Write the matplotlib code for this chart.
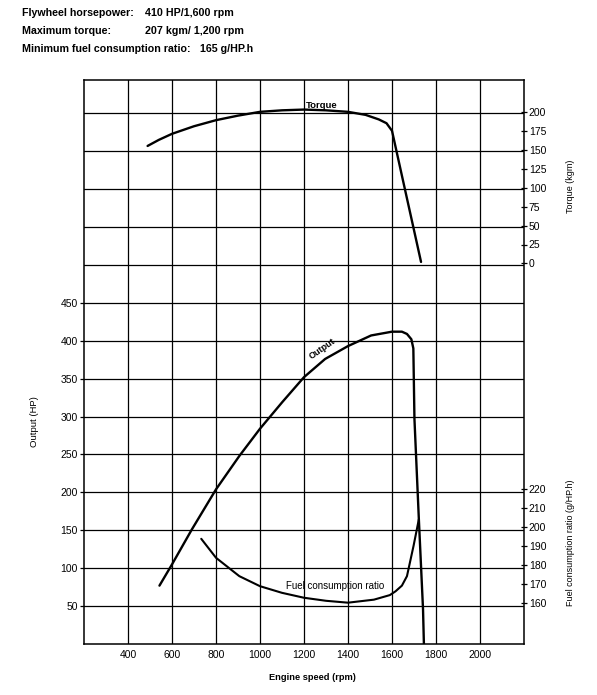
import numpy as np
import matplotlib
matplotlib.use("Agg")
import matplotlib.pyplot as plt

plt.rcParams['font.family'] = ['Liberation Sans', 'DejaVu Sans']

# values
rpm_torque = [489, 540, 600, 700, 800, 900, 1000, 1100, 1200, 1300, 1400, 1480, 1540, 1575, 1600, 1648, 1690, 1732]
torque = [155, 163, 171, 181, 189, 195, 200, 202, 203, 202, 200, 196, 190, 185, 175, 112, 57, 2]

rpm_out = [543, 600, 690, 800, 906, 1000, 1101, 1200, 1296, 1400, 1505, 1600, 1645, 1668, 1688, 1697, 1702, 1722, 1741, 1745]
output = [77, 105, 151, 204, 248, 284, 319, 352, 376, 393, 407, 412, 412, 409, 402, 390, 297, 165, 46, 0]

rpm_fuel = [733, 800, 906, 1000, 1100, 1200, 1300, 1400, 1518, 1590, 1616, 1645, 1668, 1698, 1722]
fuel = [193.7, 183.7, 174, 168.7, 165.2, 162.6, 161, 160, 161.6, 164, 166, 169, 174, 190, 204]

rpm_ticks = [400, 600, 800, 1000, 1200, 1400, 1600, 1800, 2000]
hp_ticks = [50, 100, 150, 200, 250, 300, 350, 400, 450]
torque_ticks = [0, 25, 50, 75, 100, 125, 150, 175, 200]
fuel_ticks = [160, 170, 180, 190, 200, 210, 220]

W, H = 597, 695
fig = plt.figure(figsize=(W / 100, H / 100), dpi=100)
L, R, B, T = 84, 524, 644, 80
ax = fig.add_axes([L / W, (H - B) / H, (R - L) / W, (B - T) / H])

hp_top = 744
ax.set_xlim(200, 2200)
ax.set_ylim(0, hp_top)

ax.set_xticks(rpm_ticks)
ax.set_xticklabels([str(v) for v in rpm_ticks], fontsize=7.5)
ax.tick_params(axis='x', length=0, pad=4)
ax.set_yticks(hp_ticks)
ax.set_yticklabels([str(v) for v in hp_ticks], fontsize=7.5)
ax.set_yticks([500, 550, 600, 650, 700], minor=True)
ax.tick_params(axis='y', which='major', length=3, width=0.9, pad=1.5)
ax.tick_params(axis='y', which='minor', length=0)
ax.grid(True, which='both', color='black', linewidth=0.9)
for s in ax.spines.values():
    s.set_linewidth(1.1)

ax.set_ylabel('Output (HP)', fontsize=6.8)
ax.yaxis.set_label_coords(-0.102, 0.394)
ax.set_xlabel('Engine speed (rpm)', fontsize=6.7, fontweight='bold')
ax.xaxis.set_label_coords(0.52, -0.052)

# torque scale on the right, upper part
ax_t = ax.twinx()
ax_t.set_ylim(-502, -502 + hp_top)
ax_t.set_yticks(torque_ticks)
ax_t.set_yticklabels([str(v) for v in torque_ticks], fontsize=7.5)
ax_t.tick_params(axis='y', direction='inout', length=5, width=0.9, pad=1)
ax_t.set_ylabel('Torque (kgm)', fontsize=6.5)
ax_t.yaxis.set_label_coords(1.095, 0.812)
for s in ax_t.spines.values():
    s.set_visible(False)

# fuel consumption scale on the right, lower part
ax_f = ax.twinx()
f0 = 138.2
ax_f.set_ylim(f0, f0 + 0.4 * hp_top)
ax_f.set_yticks(fuel_ticks)
ax_f.set_yticklabels([str(v) for v in fuel_ticks], fontsize=7.5)
ax_f.tick_params(axis='y', direction='inout', length=5, width=0.9, pad=1)
ax_f.set_ylabel('Fuel consumption ratio (g/HP.h)', fontsize=6.5)
ax_f.yaxis.set_label_coords(1.095, 0.179)
for s in ax_f.spines.values():
    s.set_visible(False)

ax_t.plot(rpm_torque, torque, color='black', linewidth=1.7, solid_capstyle='round')
ax.plot(rpm_out, output, color='black', linewidth=1.7, solid_capstyle='round')
ax_f.plot(rpm_fuel, fuel, color='black', linewidth=1.5, solid_capstyle='round')

ax_t.text(1280, 208.5, 'Torque', fontsize=6.8, fontweight='bold', ha='center', va='center')
ax.text(1283, 389, 'Output', fontsize=6.5, fontweight='bold', ha='center', va='center',
        rotation=35, rotation_mode='anchor')
ax_f.text(1341, 168.6, 'Fuel consumption ratio', fontsize=7, ha='center', va='center')

hdr = dict(fontsize=7.7, fontweight='bold', va='center')
fig.text(22 / W, 1 - 13 / H, 'Flywheel horsepower:', **hdr)
fig.text(145 / W, 1 - 13 / H, '410 HP/1,600 rpm', **hdr)
fig.text(22 / W, 1 - 31 / H, 'Maximum torque:', **hdr)
fig.text(145 / W, 1 - 31 / H, '207 kgm/ 1,200 rpm', **hdr)
fig.text(22 / W, 1 - 49 / H, 'Minimum fuel consumption ratio:', **hdr)
fig.text(200 / W, 1 - 49 / H, '165 g/HP.h', **hdr)

fig.savefig('out.png', dpi=100)
